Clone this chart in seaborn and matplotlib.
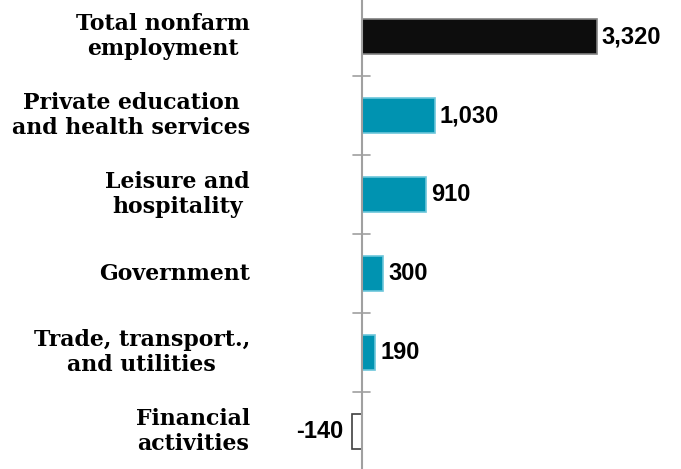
import matplotlib
matplotlib.use('Agg')
import matplotlib.pyplot as plt
from matplotlib import font_manager
import seaborn as sns
import pandas as pd

# DADOS DO GRÁFICO
categorias = ['Total nonfarm\nemployment', 'Private education\nand health services',
              'Leisure and\nhospitality', 'Government',
              'Trade, transport.,\nand utilities', 'Financial\nactivities']
valores = [3320, 1030, 910, 300, 190, -140]
rotulos = ['3,320', '1,030', '910', '300', '190', '-140']
cores = ['#0d0d0d', '#0093b1', '#0093b1', '#0093b1', '#0093b1', '#ffffff']
bordas = ['#808080', '#6cc6da', '#6cc6da', '#6cc6da', '#6cc6da', '#404040']

df = pd.DataFrame({'categoria': categorias, 'valor': valores})

# FONTE ARIAL-LIKE (evita a versao Narrow)
arquivo_fonte = None
for f in font_manager.fontManager.ttflist:
    if f.name == 'Liberation Sans' and f.weight in (700, 'bold') and f.style == 'normal' \
            and 'narrow' not in f.fname.lower():
        arquivo_fonte = f.fname
        break
if arquivo_fonte:
    fonte_valor = font_manager.FontProperties(fname=arquivo_fonte, size=17)
else:
    fonte_valor = font_manager.FontProperties(family='DejaVu Sans', weight='bold', size=15)

sns.set_style('white')
fig = plt.figure(figsize=(6.81, 4.69), dpi=100)
# eixo ocupando a altura toda, zero em x=362px
ax = fig.add_axes([347.8 / 681, -2 / 469, (673 - 347.8) / 681, 474 / 469])

sns.barplot(data=df, x='valor', y='categoria', hue='categoria', palette=cores,
            saturation=1, orient='h', width=0.44, legend=False, ax=ax)

for patch, borda in zip(ax.patches, bordas):
    patch.set_edgecolor(borda)
    patch.set_linewidth(1.2)

ax.set_xlim(-200, 4400)
ax.set_ylim(5.5, -0.5)

# rotulos de valor
for i, (v, r) in enumerate(zip(valores, rotulos)):
    if v >= 0:
        ax.annotate(r, xy=(v, i), xytext=(5, 0), textcoords='offset pixels',
                    va='center', ha='left', fontproperties=fonte_valor, color='black')
    else:
        ax.annotate(r, xy=(v, i), xytext=(-9, 0), textcoords='offset pixels',
                    va='center', ha='right', fontproperties=fonte_valor, color='black')

# eixo vertical no zero
for s in ax.spines.values():
    s.set_visible(False)
ax.axvline(0, color='#a0a0a0', lw=1.5)

ax.set_xticks([])
ax.set_yticks(range(len(categorias)))
ax.set_yticklabels([])
ax.tick_params(axis='y', which='major', length=0)

# marcas entre categorias
for b in [0.5, 1.5, 2.5, 3.5, 4.5]:
    ax.plot([-130, 115], [b, b], color='#a0a0a0', lw=1.2, clip_on=False)

for i, c in enumerate(categorias):
    ax.annotate(c, xy=(0, i), xycoords='data', xytext=(-112, 0),
                textcoords='offset pixels', ha='right', va='center',
                multialignment='center', fontsize=15.8, fontweight='bold',
                family='DejaVu Serif', linespacing=1.15, color='black')

ax.set_xlabel('')
ax.set_ylabel('')

plt.savefig('out.png', dpi=100)
